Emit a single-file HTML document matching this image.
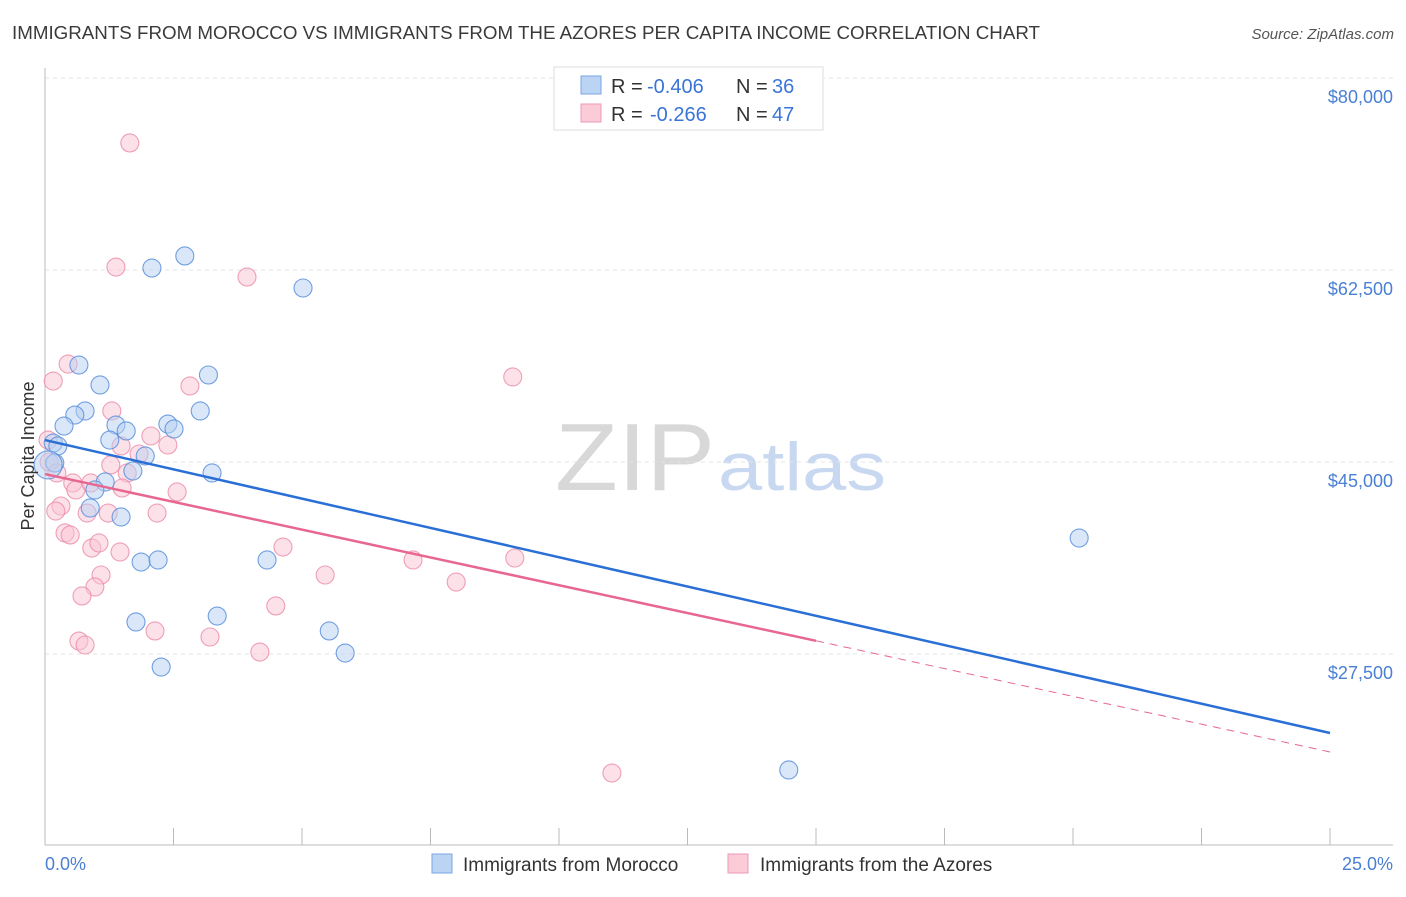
<!DOCTYPE html>
<html><head><meta charset="utf-8"><style>
body{margin:0;background:#fff;font-family:"Liberation Sans",sans-serif}
svg text{font-family:"Liberation Sans",sans-serif}
</style></head><body>
<svg width="1406" height="892" viewBox="0 0 1406 892" id="c">
<text x="12" y="39" font-size="18" fill="#3a3a3a" textLength="1028" lengthAdjust="spacingAndGlyphs">IMMIGRANTS FROM MOROCCO VS IMMIGRANTS FROM THE AZORES PER CAPITA INCOME CORRELATION CHART</text>
<text x="1394" y="39" font-size="15" fill="#555" font-style="italic" text-anchor="end">Source: ZipAtlas.com</text>
<text x="555" y="490" font-size="96" fill="#d8d8d8" textLength="160" lengthAdjust="spacingAndGlyphs" font-family="Liberation Serif">ZIP</text>
<text x="718" y="490" font-size="68" fill="#c8d8f0" textLength="168" lengthAdjust="spacingAndGlyphs">atlas</text>
<g id="grid"></g><g id="pts"></g><g id="lines"></g>
<text transform="translate(34,456) rotate(-90)" font-size="18" fill="#333" text-anchor="middle">Per Capita Income</text>
<text x="45" y="870" font-size="18" fill="#4a7fd4">0.0%</text>
<text x="1393" y="870" font-size="18" fill="#4a7fd4" text-anchor="end">25.0%</text>
<g>
<rect x="554" y="67" width="269" height="63" fill="#fff" stroke="#ddd"/>
<rect x="581" y="76" width="20" height="18" fill="#bcd4f4" stroke="#7aa6e6"/>
<rect x="581" y="104" width="20" height="18" fill="#fbcbd8" stroke="#ee9ab4"/>
<text x="611" y="93" font-size="20" fill="#333">R =</text>
<text x="647" y="93" font-size="20" fill="#3a74d6">-0.406</text>
<text x="736" y="93" font-size="20" fill="#333">N =</text>
<text x="772" y="93" font-size="20" fill="#3a74d6">36</text>
<text x="611" y="121" font-size="20" fill="#333">R =</text>
<text x="650" y="121" font-size="20" fill="#3a74d6">-0.266</text>
<text x="736" y="121" font-size="20" fill="#333">N =</text>
<text x="772" y="121" font-size="20" fill="#3a74d6">47</text>
</g>
<g>
<rect x="432" y="854" width="20" height="19" fill="#bcd4f4" stroke="#7aa6e6"/>
<text x="463" y="871" font-size="19" fill="#333">Immigrants from Morocco</text>
<rect x="728" y="854" width="20" height="19" fill="#fbcbd8" stroke="#ee9ab4"/>
<text x="760" y="871" font-size="19" fill="#333">Immigrants from the Azores</text>
</g>
</svg>
<script>
const yTicks=[27500,45000,62500,80000];
const yTickLabels=["$27,500","$45,000","$62,500","$80,000"];
const xTicks=[0,2.5,5,7.5,10,12.5,15,17.5,20,22.5,25];
const moroccoX=[0.66,1.07,3.18,0.78,0.58,0.37,1.38,1.58,1.26,3.02,2.39,2.51,0.16,0.25,0.19,1.95,1.71,3.25,1.17,0.97,0.88,1.48,1.87,2.20,4.32,1.77,3.35,2.26,5.53,5.84,2.08,2.72,5.02,20.12,14.47,0.06];
const moroccoY=[53840,52020,52930,49650,49280,48280,48370,47830,47000,49650,48460,48010,46730,46460,44910,45550,44180,44000,43180,42450,40810,39990,35880,36070,36070,30420,30960,26310,29600,27590,62680,63780,60860,38070,16930,44730];
const azoresX=[0.45,0.16,2.82,1.30,2.06,2.39,1.48,1.83,1.28,1.60,0.08,0.23,0.54,0.60,0.89,1.50,2.57,0.31,0.21,0.82,1.23,2.18,0.39,0.49,0.91,1.05,1.46,4.63,5.45,1.09,0.97,0.72,4.49,2.14,3.21,0.66,0.78,4.18,1.65,1.38,3.93,9.10,7.16,9.14,8.00,11.03,0.06];
const azoresY=[53930,52380,51930,49650,47370,46550,46460,45730,44730,44000,45000,44000,43090,42450,43090,42630,42270,40990,40530,40350,40350,40350,38530,38350,37160,37620,36800,37250,34700,34700,33610,32790,31880,29600,29050,28680,28320,27680,74080,62770,61860,52750,36070,36250,34060,16650,47000];
const moroccoTrend=[47000,20300];
const azoresTrend=[43900,18570];
const azoresSolidEnd=15;
const NS='http://www.w3.org/2000/svg';
const X=v=>45+v/25*1285;
const Y=v=>78+(80000-v)/17500*192;
function mk(t,a,p){const e=document.createElementNS(NS,t);for(const k in a)e.setAttribute(k,a[k]);p.appendChild(e);return e;}
const grid=document.getElementById('grid');
yTicks.forEach((t,i)=>{
 const l=mk('line',{x1:45,x2:1393,y1:Y(t),y2:Y(t),stroke:'#e4e4e4','stroke-dasharray':'4,4'},grid);
 
 
 const tx=mk('text',{x:1393,y:Y(t)+25,'font-size':18,fill:'#4a7fd4','text-anchor':'end'},grid);
 tx.textContent=yTickLabels[i];
 
 
});
const ax=mk('line',{x1:45,x2:45,y1:68,y2:845,stroke:'#bbb'},grid);


const bx=mk('line',{x1:45,x2:1393,y1:845,y2:845,stroke:'#bbb'},grid);


xTicks.forEach(t=>{const l=mk('line',{x1:X(t),x2:X(t),y1:828,y2:845,stroke:'#bbb'},grid);
 
 });
const pts=document.getElementById('pts');
function series(xs,ys,fill,stroke,name){xs.forEach((x,i)=>{
 const c=mk('circle',{cx:X(x),cy:Y(ys[i]),r:(i==xs.length-1&&name=='morocco-point')?14:9,fill:fill,'fill-opacity':0.5,stroke:stroke,'stroke-width':1.1,'stroke-opacity':0.85},pts);
 
 });}
series(azoresX,azoresY,'#f9c4d3','#ec8fac','azores-point');
series(moroccoX,moroccoY,'#b5cff2','#5b8fdc','morocco-point');
const lines=document.getElementById('lines');
const m=mk('line',{x1:X(0),y1:Y(moroccoTrend[0]),x2:X(25),y2:Y(moroccoTrend[1]),stroke:'#2a6fd6','stroke-width':2.5},lines);


const ay=v=>azoresTrend[0]+(azoresTrend[1]-azoresTrend[0])*v/25;
const a=mk('line',{x1:X(0),y1:Y(ay(0)),x2:X(azoresSolidEnd),y2:Y(ay(azoresSolidEnd)),stroke:'#e86790','stroke-width':2.5},lines);


const ad=mk('line',{x1:X(azoresSolidEnd),y1:Y(ay(azoresSolidEnd)),x2:X(25),y2:Y(ay(25)),stroke:'#e86790','stroke-width':1,'stroke-dasharray':'8,6'},lines);


</script>
</body></html>
